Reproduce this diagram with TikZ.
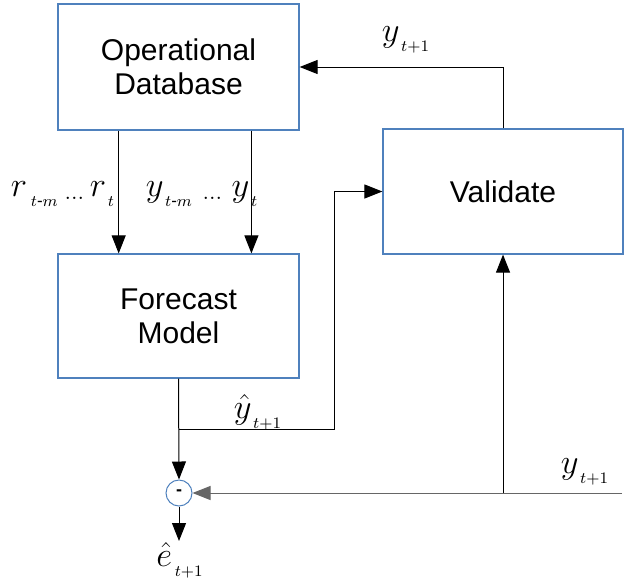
\documentclass[tikz,border=0pt]{standalone}
\usepackage{amsmath}
\usepackage[no-math]{fontspec}
\setmainfont{Liberation Sans}
\usetikzlibrary{arrows.meta,calc}
\definecolor{boxblue}{RGB}{79,129,189}
\newcommand{\lowsub}[1]{_{\lower2.5pt\hbox{$\scriptscriptstyle #1$}}}
\newcommand{\lowdots}{\lower1.5pt\hbox{$\scriptstyle\ldots$}}
\begin{document}
\begin{tikzpicture}[x=0.5pt,y=-0.5pt,
  every node/.style={font=\fontsize{15}{17}\selectfont},
  blk/.style={draw=boxblue,line width=0.6pt,inner sep=0pt,align=center,minimum width=120.5pt},
  arr/.style={-{Triangle[length=9pt,width=7pt]},line width=0.5pt},
  lbl/.style={font=\fontsize{17}{19}\selectfont},
  sumnode/.style={circle,draw=boxblue,line width=0.5pt,minimum size=13pt,inner sep=0pt,font=\small\bfseries}]
\useasboundingbox (0,0) rectangle (640,578);
\node[blk,minimum height=63pt] (db) at (178.5,67) {Operational\\Database};
\node[blk,minimum height=62pt] (fc) at (178.5,316) {Forecast\\Model};
\node[blk,minimum width=120pt,minimum height=62.5pt] (val) at (503,191.5) {Validate};
\node[sumnode] (sum) at (179,493) {-};
\coordinate (br) at (178.5,429);
\coordinate (yin) at (622,493);
\coordinate (eout) at (179,541);
\draw[arr] ($(db.south west)!0.253!(db.south east)$) -- ($(fc.north west)!0.253!(fc.north east)$);
\draw[arr] ($(db.south west)!0.801!(db.south east)$) -- ($(fc.north west)!0.801!(fc.north east)$);
\draw[arr] (val.north) |- (db.east);
\draw[arr] (fc.south) -- (sum.north);
\draw[arr] (br) -| ([xshift=-24pt]val.west) -- (val.west);
\draw[arr,black!60] (yin) -- (sum.east);
\draw[arr] (val.south |- sum.east) -- (val.south);
\draw[arr] (sum.south) -- (eout);
\node[lbl] (lr) at (63,194) {$r\lowsub{\;t\text{-}m}\,\lowdots\, r\lowsub{\,t}$};
\node[lbl] (ly) at (202,194) {$y\lowsub{\,t\text{-}m}\;\lowdots\; y\lowsub{\,t}$};
\node[lbl] (lfb) at (406,40) {$y\lowsub{\,t+1}$};
\node[lbl] (lhat) at (258,412) {$\hat{y}\lowsub{\,t+1}$};
\node[lbl] (lin) at (585,472) {$y\lowsub{\,t+1}$};
\node[lbl] (le) at (180,560) {$\hat{e}\lowsub{\,t+1}$};
\end{tikzpicture}
\end{document}
